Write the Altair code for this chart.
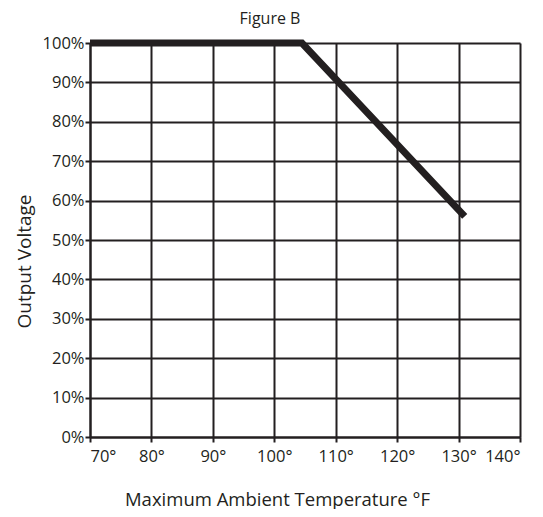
import altair as alt
import pandas as pd

temps = [70, 104.5, 131]
voltage = [100, 100, 56]
x_ticks = [70, 80, 90, 100, 110, 120, 130, 140]
y_ticks = [0, 10, 20, 30, 40, 50, 60, 70, 80, 90, 100]

df = pd.DataFrame({"temp": temps, "voltage": voltage})

FONT = "Open Sans"
INK = "#231f20"

chart = alt.Chart(df).mark_line(color=INK, strokeWidth=7, strokeCap="butt", strokeJoin="miter").encode(
    x=alt.X("temp:Q",
            scale=alt.Scale(domain=[70, 140], nice=False, zero=False),
            axis=alt.Axis(values=x_ticks, labelExpr="datum.value + '°'",
                          title="Maximum Ambient Temperature °F",
                          titleFontSize=18.5, titleFontWeight="normal",
                          titleX=187, titleY=68, titleAlign="center", titleBaseline="alphabetic",
                          labelFontSize=16.5, labelPadding=6, tickSize=5,
                          grid=True, gridColor=INK, gridWidth=2, gridOpacity=1,
                          domainColor=INK, domainWidth=2, tickColor=INK, tickWidth=2,
                          labelColor=INK, titleColor=INK, labelFont=FONT, titleFont=FONT)),
    y=alt.Y("voltage:Q",
            scale=alt.Scale(domain=[0, 100], nice=False),
            axis=alt.Axis(values=y_ticks, labelExpr="datum.value + '%'",
                          title="Output Voltage",
                          titleFontSize=19, titleFontWeight="normal",
                          titleX=-60, titleY=218, titleAlign="center", titleBaseline="alphabetic",
                          titleAngle=270,
                          labelFontSize=16.5, labelPadding=1, tickSize=5,
                          grid=True, gridColor=INK, gridWidth=2, gridOpacity=1,
                          domainColor=INK, domainWidth=2, tickColor=INK, tickWidth=2,
                          labelColor=INK, titleColor=INK, labelFont=FONT, titleFont=FONT)),
).properties(
    width=430, height=394,
    title=alt.TitleParams("Figure B", fontSize=16, fontWeight="normal", font=FONT,
                          color=INK, offset=2, anchor="middle", dx=-35),
    autosize=alt.AutoSizeParams(type="none"),
    padding={"left": 82, "top": 35, "right": 15, "bottom": 72},
).configure_view(stroke=INK, strokeWidth=2).configure(background="white")

chart.save("out.html", embed_options={"renderer": "svg", "actions": False})
